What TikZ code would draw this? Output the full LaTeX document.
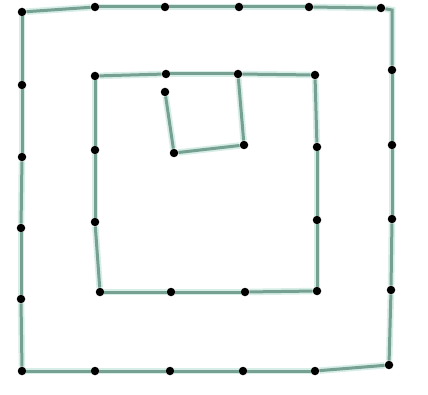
\documentclass[tikz,border=0pt]{standalone}
\definecolor{linec}{RGB}{118,160,145}
\definecolor{glowc}{RGB}{215,238,232}
\begin{document}
\begin{tikzpicture}[x=1pt,y=-1pt,
  dot/.style={circle,fill=black,inner sep=0pt,minimum size=8.5pt},
  seg/.style={draw=linec,line width=3pt,preaction={draw=glowc,line width=6.5pt}}]
\fill[white] (0,0) rectangle (428,395);
\useasboundingbox (0,0) rectangle (428,395);
% outer
\node[dot] (o1) at (22,12) {};
\node[dot] (o2) at (95,7) {};
\node[dot] (o3) at (165,7) {};
\node[dot] (o4) at (239,7) {};
\node[dot] (o5) at (309,7) {};
\node[dot] (o6) at (381,8) {};
\coordinate (c6) at (392,10);
\node[dot] (o7) at (392,70) {};
\node[dot] (o8) at (392,145) {};
\node[dot] (o9) at (392,219) {};
\node[dot] (o10) at (391,290) {};
\node[dot] (o11) at (389,365) {};
\node[dot] (o12) at (315,371) {};
\node[dot] (o13) at (243,371) {};
\node[dot] (o14) at (170,371) {};
\node[dot] (o15) at (95,371) {};
\node[dot] (o16) at (22,371) {};
\node[dot] (o17) at (21,299) {};
\node[dot] (o18) at (21,228) {};
\node[dot] (o19) at (22,157) {};
\node[dot] (o20) at (22,85) {};
% middle
\node[dot] (m1) at (95,76) {};
\node[dot] (m2) at (166,74) {};
\node[dot] (m3) at (238,74) {};
\node[dot] (m4) at (315,75) {};
\node[dot] (m5) at (317,147) {};
\node[dot] (m6) at (317,220) {};
\node[dot] (m7) at (317,291) {};
\node[dot] (m8) at (245,292) {};
\node[dot] (m9) at (171,292) {};
\node[dot] (m10) at (100,292) {};
\node[dot] (m11) at (95,222) {};
\node[dot] (m12) at (95,150) {};
% inner
\node[dot] (i1) at (165,92) {};
\node[dot] (i2) at (174,153) {};
\node[dot] (i3) at (244,145) {};
% connectors
\draw[seg] (o6) -- (c6) -- (o7);
\foreach \a/\b in {o1/o2,o2/o3,o3/o4,o4/o5,o5/o6,o7/o8,o8/o9,o9/o10,o10/o11,
  o11/o12,o12/o13,o13/o14,o14/o15,o15/o16,o16/o17,o17/o18,o18/o19,o19/o20,o20/o1,
  m1/m2,m2/m3,m3/m4,m4/m5,m5/m6,m6/m7,m7/m8,m8/m9,m9/m10,m10/m11,m11/m12,m12/m1,
  i1/i2,i2/i3,i3/m3}
  {\draw[seg] (\a) -- (\b);}
\end{tikzpicture}
\end{document}
